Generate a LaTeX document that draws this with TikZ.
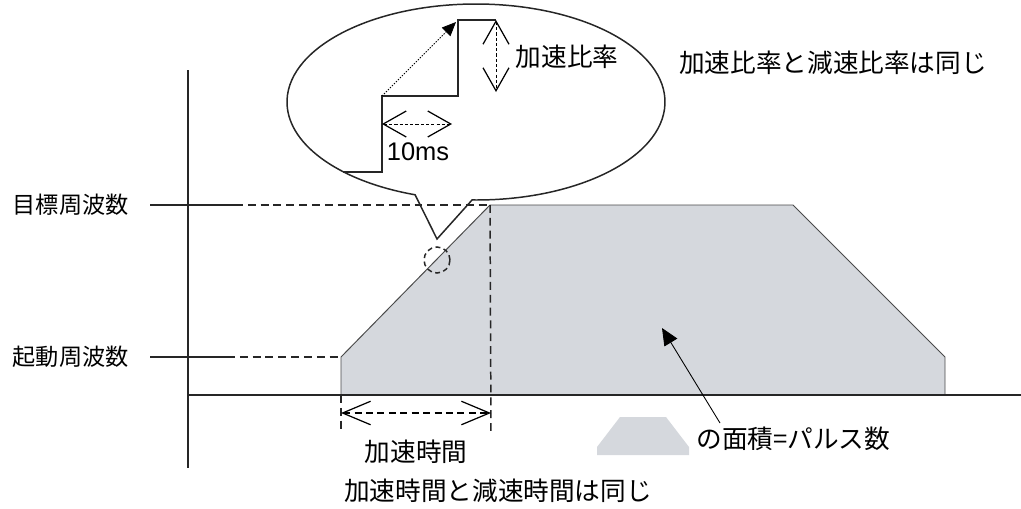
\documentclass[tikz,border=0pt]{standalone}
\usepackage{fontspec}
\setmainfont{Noto Sans CJK JP}
\newfontfamily\latinfont{Liberation Sans}
\usetikzlibrary{arrows.meta}
\definecolor{areaFill}{HTML}{D5D8DD}
\definecolor{edgeGray}{HTML}{4A4A4A}

\begin{document}
\begin{tikzpicture}[
        x=0.02cm, y=0.02cm,
        font=\fontsize{14.6}{17}\selectfont,
        level/.style={anchor=east, inner sep=0, font=\fontsize{13.2}{16}\selectfont},
        axis/.style={line width=1.1pt, draw=black!85},
        lead/.style={line width=0.85pt, draw=black!85},
        guide/.style={line width=0.85pt, draw=black!85, dash pattern=on 4.5pt off 2.8pt},
        edge/.style={line width=0.55pt, draw=edgeGray},
        bubble/.style={line width=0.85pt, draw=black!85},
        stair/.style={line width=1pt, draw=black!85},
        span/.style={
            {Straight Barb[length=5.6mm,width=4.7mm,line width=0.7pt]}-{Straight Barb[length=5.6mm,width=4.7mm,line width=0.7pt]},
            line width=0.7pt, dash pattern=on 4pt off 2.5pt
        },
        tick/.style={
            {Straight Barb[length=4.6mm,width=5.2mm,line width=0.7pt]}-{Straight Barb[length=4.6mm,width=5.2mm,line width=0.7pt]},
            line width=0.45pt, dash pattern=on 1.8pt off 1.2pt
        },
        slope/.style={-{Triangle[length=2.8mm,width=2.4mm]}, line width=0.45pt, dash pattern=on 0.8pt off 0.8pt},
        point/.style={-{Triangle[length=3.4mm,width=3mm]}, line width=0.5pt}
    ]
    \useasboundingbox (0,0) rectangle (1021,-508);

    % pulse area
    \fill[areaFill] (341,-395) -- (341,-357) -- (490,-205) -- (793,-205)
        -- (945,-357) -- (945,-395) -- cycle;
    \draw[edge] (341,-395) -- (341,-357) -- (490,-205) -- (793,-205)
        -- (945,-357) -- (945,-395);

    % axes
    \coordinate (ytop) at (188,-70);
    \coordinate (ybot) at (188,-468);
    \coordinate (orig) at (188,-395);
    \coordinate (xend) at (1021,-395);
    \draw[axis] (ytop) -- (ybot);
    \draw[axis] (orig) -- (xend);

    % frequency levels
    \node[level] (tgtlbl) at (129,-205) {目標周波数};
    \node[level] (startlbl) at (129,-357) {起動周波数};
    \coordinate (tgtA) at (150,-205);
    \coordinate (tgtB) at (235,-205);
    \coordinate (tgtC) at (490,-205);
    \coordinate (startA) at (150,-357);
    \coordinate (startB) at (227,-357);
    \coordinate (startC) at (341,-357);
    \draw[lead] (tgtA) -- (tgtB);
    \draw[guide] (tgtB) -- (tgtC);
    \draw[lead] (startA) -- (startB);
    \draw[guide] (startB) -- (startC);

    % acceleration time
    \coordinate (accL) at (341,-395);
    \coordinate (accLb) at (341,-433);
    \coordinate (accRb) at (491,-433);
    \draw[guide] (tgtC) -- (accRb);
    \draw[guide] (accL) -- (accLb);
    \coordinate (spanL) at (341,-413);
    \coordinate (spanR) at (491,-413);
    \draw[span] (spanL) -- (spanR);
    \node (acclbl) at (416,-452) {加速時間};
    \node (accsame) at (498,-491) {加速時間と減速時間は同じ};

    % zoomed detail
    \coordinate (bubtip) at (437,-239);
    \draw[bubble] (476,-102) ++(268.8:189 and 98) coordinate (bubR)
        arc[start angle=268.8, end angle=611.2, x radius=189, y radius=98]
        coordinate (bubL) -- (bubtip) -- cycle;
    \draw[guide, dash pattern=on 2.8pt off 2pt] (437,-260) circle[radius=13];

    \draw[stair] (343,-172) -- (382,-172) -- (382,-96) -- (458,-96)
        -- (458,-20) -- (496,-20);
    \coordinate (stepA) at (382,-96);
    \coordinate (stepB) at (456,-22);
    \draw[slope] (stepA) -- (stepB);
    \coordinate (riseT) at (496,-20);
    \coordinate (riseB) at (496,-92);
    \draw[tick] (riseT) -- (riseB);
    \coordinate (runL) at (382,-124);
    \coordinate (runR) at (452,-124);
    \draw[tick] (runL) -- (runR);
    \node[font=\latinfont\fontsize{14.5}{16}\selectfont] (tenms) at (418,-152) {10ms};
    \node (ratelbl) at (567,-57) {加速比率};
    \node (ratesame) at (833,-63) {加速比率と減速比率は同じ};

    % legend
    \fill[areaFill] (597,-455) -- (597,-447) -- (620,-417) -- (666,-417)
        -- (689,-447) -- (689,-455) -- cycle;
    \node[anchor=west, inner sep=0] (arealbl) at (696,-439) {の面積=パルス数};
    \coordinate (areaFrom) at (720,-423);
    \coordinate (areaTo) at (662,-328);
    \draw[point] (areaFrom) -- (areaTo);

\end{tikzpicture}
\end{document}
